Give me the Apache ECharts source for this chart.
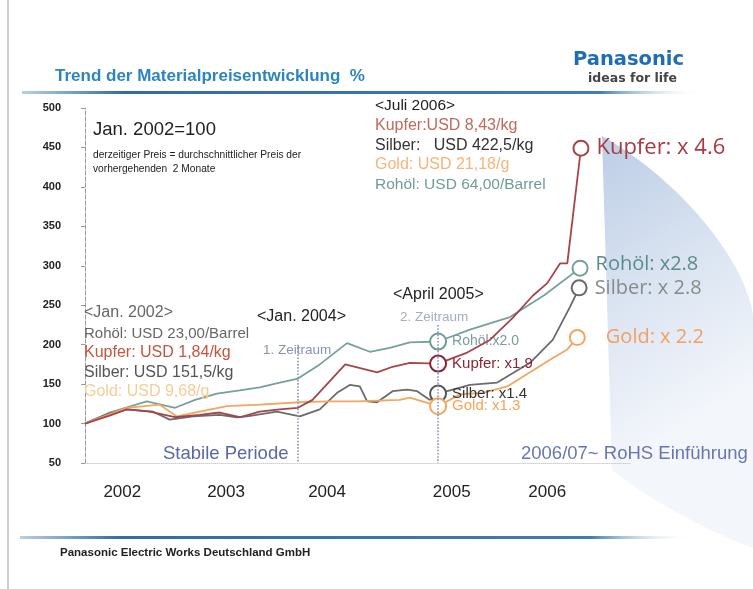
<!DOCTYPE html>
<html style="height: 100%;">
<head>
<meta charset="utf-8">
<script src="https://cdn.jsdelivr.net/npm/echarts@6/dist/echarts.min.js"></script>
</head>
<body style="height: 100%; margin: 0; background-color: #fff;">
<div id="container" style="width: 753px; height: 589px;"></div>
<script type="text/javascript">
// months since Jan. 2002 -> index (Jan. 2002 = 100)
var rohoel = [[0,100],[2.7,114],[6.8,128],[9.9,120],[12.1,130],[14.5,138],[17,142],[19.2,146],[21.4,152],[23.4,157],[25.8,175],[28.8,202],[31.3,191],[33.5,196],[35.7,203],[38.8,204],[42.3,219],[46.7,235],[50.5,263],[54.4,297]];
var kupfer = [[0,100],[2.7,110],[4.6,118],[7.1,115],[9.9,108],[12.6,111],[14.8,114],[17,108],[19.2,115],[21.4,118],[23.4,120],[25,130],[28.6,175],[32.1,165],[33.8,172],[35.7,177],[38.8,176],[42,190],[44.5,206],[47,234],[49.2,262],[50.8,278],[52.2,303],[53,303],[54.5,449]];
var silber = [[0,100],[2.7,113],[4.6,118],[7.5,115],[9.3,105],[11.9,109],[14.8,111],[16.7,108],[17.8,109],[21.1,115],[23.6,109],[25.8,118],[27.7,139],[29.1,149],[30.2,147],[31,128],[32.1,127],[33.8,141],[35.4,143],[36.5,141],[37.9,130],[38.8,138],[42.3,149],[45.3,152],[48.9,177],[51.4,206],[53.3,248],[54.3,272]];
var gold = [[0,100],[4.6,120],[8.2,124],[10.1,109],[12.6,115],[15.6,122],[19.2,124],[23.6,127],[26.6,128],[29.9,128],[34.6,130],[35.7,133],[38.8,122],[41.2,137],[43.7,139],[46.4,147],[48.9,165],[51.1,181],[53,194],[54.1,209]];

var seriesNames = ['Rohöl', 'Kupfer', 'Silber', 'Gold'];
var seriesColors = ['#76a09c', '#a8434a', '#6b6b6b', '#f2a65e'];
var aprilLabels = ['Rohöl:x2.0', 'Kupfer: x1.9', 'Silber: x1.4', 'Gold: x1.3'];
var juliLabels = ['Rohöl: x2.8', 'Kupfer: x 4.6', 'Silber: x 2.8', 'Gold: x 2.2'];
var aprilLabelColors = ['#7a9c9a', '#8c2438', '#333333', '#f5a55a'];
var juliLabelColors = ['#5a8c8a', '#a83a44', '#8a8a8a', '#f2a060'];
var aprilCircleColors = ['#6f9a96', '#8a2236', '#555555', '#f2a65e'];

var yearLabels = ['2002', '2003', '2004', '2005', '2006'];
var yearLabelMonths = [4.1, 15.5, 26.6, 40.3, 50.8];
var periodMarks = [[23.4, 200], [38.8, 225]]; // Jan. 2004, April 2005

var aprilMonth = 38.8;

var dom = document.getElementById('container');
var myChart = echarts.init(dom);

function buildData(points, i) {
    return points.map(function (p, k) {
        var item = { value: p };
        if (p[0] === aprilMonth) {
            item.symbol = 'emptyCircle';
            item.symbolSize = 16;
            item.itemStyle = { color: aprilCircleColors[i], borderWidth: 3 };
            item.label = {
                show: true, position: 'right', distance: 5,
                formatter: aprilLabels[i],
                color: aprilLabelColors[i],
                fontSize: i === 0 ? 14 : 15,
                fontFamily: 'Liberation Sans'
            };
        }
        if (k === points.length - 1) {
            item.symbol = 'emptyCircle';
            item.symbolSize = 15;
            item.label = {
                show: true, position: 'right',
                distance: i === 3 ? 20 : 7,
                offset: i === 0 ? [0, -4] : [0, 0],
                formatter: juliLabels[i],
                color: juliLabelColors[i],
                fontSize: i === 1 ? 22 : 20,
                fontFamily: 'Open Sans'
            };
        }
        return item;
    });
}

var lines = [rohoel, kupfer, silber, gold].map(function (pts, i) {
    return {
        name: seriesNames[i],
        type: 'line',
        symbol: 'none',
        showSymbol: true,
        z: i === 1 ? 4 : 3,
        data: buildData(pts, i),
        lineStyle: { color: seriesColors[i], width: 1.8 },
        itemStyle: { color: seriesColors[i], borderWidth: 2.5 },
        animation: false
    };
});

lines[0].markLine = {
    silent: true,
    symbol: 'none',
    label: { show: false },
    lineStyle: { color: '#8a92bb', type: 'dotted', width: 1.6 },
    data: periodMarks.map(function (m) {
        return [{ coord: [m[0], m[1]] }, { coord: [m[0], 50] }];
    })
};

var txt = function (x, y, text, size, color, weight, family) {
    return {
        type: 'text', left: x, top: y, z: 10,
        style: {
            text: text, fill: color,
            font: (weight || 'normal') + ' ' + size + 'px ' + (family || '"Liberation Sans", Arial, sans-serif')
        }
    };
};

// outline of the decorative wedge (two cubic curves joined by straight edges)
function bez(p0, p1, p2, p3, n) {
    var out = [];
    for (var k = 0; k <= n; k++) {
        var t = k / n, u = 1 - t;
        out.push([
            u * u * u * p0[0] + 3 * u * u * t * p1[0] + 3 * u * t * t * p2[0] + t * t * t * p3[0],
            u * u * u * p0[1] + 3 * u * u * t * p1[1] + 3 * u * t * t * p2[1] + t * t * t * p3[1]
        ]);
    }
    return out;
}
var wedge = bez([602, 136], [680, 180], [745, 260], [753, 315], 20)
    .concat([[753, 548]])
    .concat(bez([753, 548], [705, 530], [650, 500], [612, 470], 20));

var ruleGradient = {
    type: 'linear', x: 0, y: 0, x2: 1, y2: 0,
    colorStops: [
        { offset: 0, color: '#b8d0e6' },
        { offset: 0.15, color: '#2f6ea4' },
        { offset: 0.85, color: '#3f7eb2' },
        { offset: 1, color: 'rgba(255,255,255,0)' }
    ]
};

var narrow = '"Liberation Sans Narrow", "Liberation Sans", sans-serif';

option = {
    backgroundColor: '#fff',
    animation: false,
    grid: { left: 85, top: 108, width: 546, height: 355 },
    xAxis: {
        type: 'value', min: 0, max: 60,
        splitLine: { show: false },
        axisTick: { show: false },
        axisLine: { show: true, lineStyle: { color: '#d0d0d0', type: 'dotted' } },
        axisLabel: {
            customValues: yearLabelMonths,
            margin: 21,
            fontSize: 17,
            color: '#222',
            fontFamily: 'Liberation Sans',
            formatter: function (v) {
                var k = yearLabelMonths.indexOf(v);
                return k >= 0 ? yearLabels[k] : '';
            }
        }
    },
    yAxis: {
        type: 'value', min: 50, max: 500, interval: 50,
        splitLine: { show: false },
        axisLine: { show: true, lineStyle: { color: '#999', type: 'dashed' } },
        axisTick: { show: true, length: 4, lineStyle: { color: '#999' } },
        axisLabel: { margin: 24, fontSize: 11, fontWeight: 'bold', color: '#222', fontFamily: 'Liberation Sans' }
    },
    graphic: [
        {
            type: 'polygon', z: -10, silent: true,
            shape: { points: wedge },
            style: {
                fill: {
                    type: 'linear', x: 0, y: 0, x2: 1, y2: 0.6,
                    colorStops: [{ offset: 0, color: '#bccde6' }, { offset: 0.5, color: '#d9e3f1' }, { offset: 1, color: '#f3f6fb' }]
                }
            }
        },
        { type: 'line', shape: { x1: 8, y1: 0, x2: 8, y2: 589 }, style: { stroke: '#bdbdbd', lineWidth: 1.5 } },
        { type: 'rect', shape: { x: 22, y: 91, width: 680, height: 3 }, style: { fill: ruleGradient } },
        { type: 'rect', shape: { x: 20, y: 536, width: 672, height: 3 }, style: { fill: ruleGradient } },
        txt(55, 68, 'Trend der Materialpreisentwicklung  %', 17, '#2b86bf', 'bold'),
        txt(573, 50, 'Panasonic', 19.5, '#1f6db4', 'bold', '"DejaVu Sans", sans-serif'),
        txt(588, 72, 'ideas for life', 12.5, '#444', 'bold', '"DejaVu Sans", sans-serif'),
        txt(60, 547, 'Panasonic Electric Works Deutschland GmbH', 11.5, '#222', 'bold'),

        txt(93, 120, 'Jan. 2002=100', 18.5, '#222'),
        txt(93, 150, 'derzeitiger Preis = durchschnittlicher Preis der', 10.2, '#222', 'normal', narrow),
        txt(93, 164, 'vorhergehenden  2 Monate', 10.2, '#222', 'normal', narrow),

        txt(375, 98, '<Juli 2006>', 15.5, '#222'),
        txt(375, 118, 'Kupfer:USD 8,43/kg', 16, '#c06a5c'),
        txt(375, 138, 'Silber:   USD 422,5/kg', 16, '#333'),
        txt(375, 157, 'Gold: USD 21,18/g', 16, '#f6b478'),
        txt(375, 177, 'Rohöl: USD 64,00/Barrel', 15.5, '#6e9c98'),

        txt(84, 305, '<Jan. 2002>', 16, '#666'),
        txt(84, 326, 'Rohöl: USD 23,00/Barrel', 15, '#666'),
        txt(84, 345, 'Kupfer: USD 1,84/kg', 16, '#c4553e'),
        txt(84, 365, 'Silber: USD 151,5/kg', 16, '#555'),
        txt(84, 384, 'Gold: USD 9,68/g', 16, '#f7cc95'),

        txt(257, 309, '<Jan. 2004>', 16, '#222'),
        txt(263, 343, '1. Zeitraum', 13.5, '#8a92b4'),
        txt(393, 287, '<April 2005>', 16, '#222'),
        txt(400, 310, '2. Zeitraum', 13.5, '#a6acc2'),

        txt(163, 444, 'Stabile Periode', 18.5, '#5a66a6'),
        txt(521, 444, '2006/07~ RoHS Einführung', 18.5, '#6a76ae')
    ],
    series: lines
};

if (option && typeof option === 'object') {
    myChart.setOption(option, true);
}
</script>
</body>
</html>
